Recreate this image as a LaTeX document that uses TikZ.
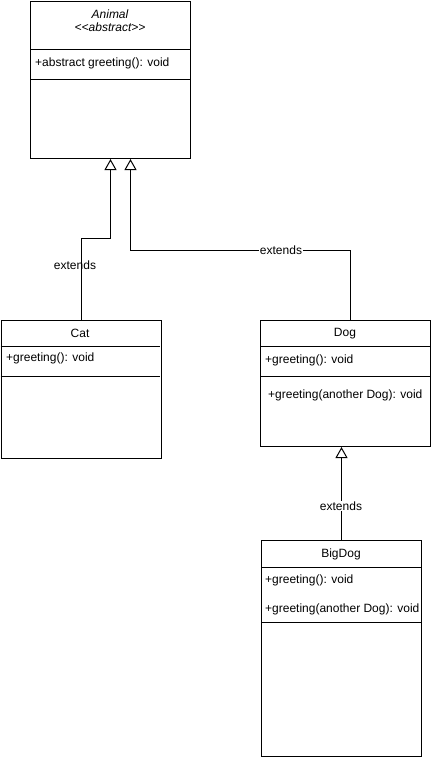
\documentclass[tikz,border=0pt]{standalone}
\usepackage{fontspec}
\setmainfont{Liberation Sans}
\usepackage{tikz}
\usetikzlibrary{arrows.meta,positioning}
\tikzstyle{classbox} = [draw,line width=1pt,anchor=north west,inner sep=0pt]
\tikzstyle{member} = [anchor=west,inner sep=0pt]
\tikzstyle{extends} = [line width=1pt,-{Triangle[open,width=12pt,length=11pt]}]
\tikzstyle{lbl} = [inner sep=1pt]

\begin{document}
\begin{tikzpicture}[x=1pt,y=-1pt,font=\fontsize{12}{14}\selectfont]
        \useasboundingbox (0,0) rectangle (431,757);
        \node[classbox,minimum width=160pt,minimum height=157pt] (animal) at (30,1) {};
        \node[font=\fontsize{12}{14}\selectfont\itshape] (animalname) at (110,14) {Animal};
        \node[font=\fontsize{12}{14}\selectfont\itshape] (animalstereo) at (110,27) {\textless\kern0pt\textless abstract\textgreater\kern0pt\textgreater};
        \draw[line width=1pt] (30,50) -- (190,50);
        \node[member] (animalgreet) at (35,63) {+abstract greeting(): void};
        \draw[line width=1pt] (30,80) -- (190,80);

        \node[classbox,minimum width=160pt,minimum height=138pt] (cat) at (0.5,320) {};
        \node (catname) at (80,333) {Cat};
        \draw[line width=1pt] (0.5,346) -- (160,346);
        \node[member] (catgreet) at (6,358) {+greeting(): void};
        \draw[line width=1pt] (0.5,376) -- (160,376);

        \node[classbox,minimum width=170pt,minimum height=126pt] (dog) at (260,320) {};
        \node (dogname) at (345,334) {Dog};
        \draw[line width=1pt] (260,346) -- (430,346);
        \node[member] (doggreet) at (265,360) {+greeting(): void};
        \draw[line width=1pt] (260,376) -- (430,376);
        \node[member] (doggreetdog) at (268,395) {+greeting(another Dog): void};

        \node[classbox,minimum width=160pt,minimum height=216pt] (bigdog) at (261,540) {};
        \node (bigdogname) at (341,554) {BigDog};
        \draw[line width=1pt] (261,567) -- (421,567);
        \node[member] (bigdoggreet) at (265,580) {+greeting(): void};
        \node[member] (bigdoggreetdog) at (265,609) {+greeting(another Dog): void};
        \draw[line width=1pt] (261,622) -- (421,622);

        \draw[extends] (cat.north) -- ++(0,-82) -| (animal.south);
        \node[lbl] (catext) at (75,265) {extends};
        \draw[extends] ([xshift=5pt]dog.north) -- ++(0,-70) -| ([xshift=20pt]animal.south);
        \node[lbl,fill=white] (dogext) at (281,250) {extends};
        \draw[extends] (bigdog.north) -- (bigdog.north |- dog.south);
        \node[lbl,fill=white] (bigdogext) at (341,506) {extends};
    \end{tikzpicture}
\end{document}
